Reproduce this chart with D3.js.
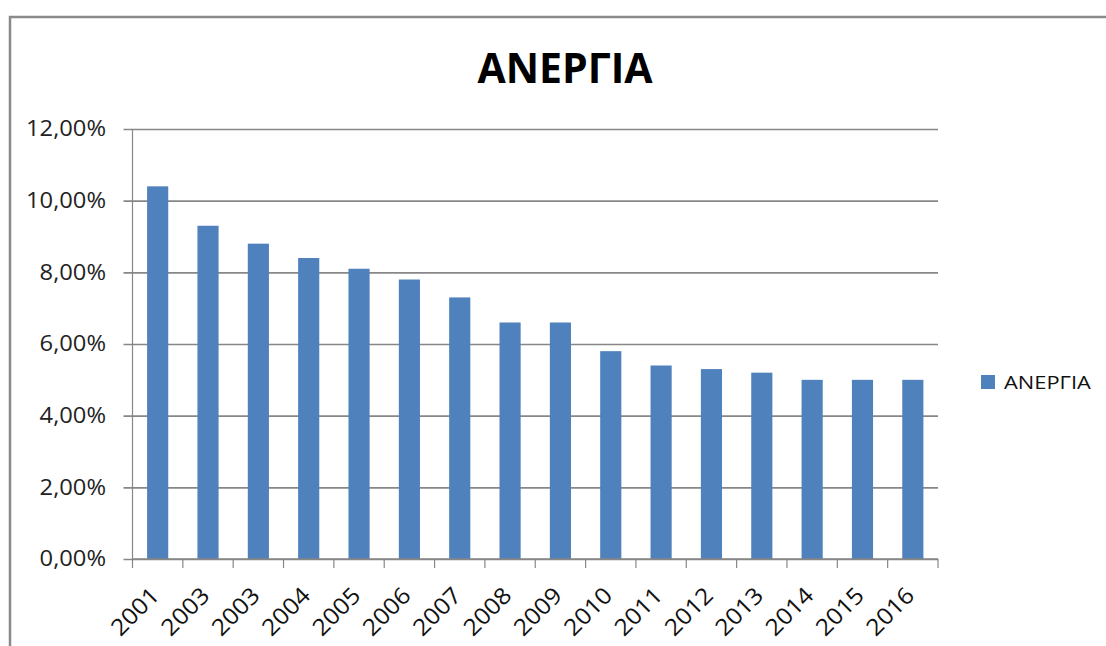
<!DOCTYPE html>
<html>
<head>
<meta charset="utf-8">
<script src="https://cdn.jsdelivr.net/npm/d3@7"></script>
<style>
  body { margin: 0; background: #fff; }
  svg { display: block; }
</style>
</head>
<body>
<div id="chart"></div>
<script>
// data (labels kept as shown, incl. the repeated 2003)
const years = ['2001', '2003', '2003', '2004', '2005', '2006', '2007', '2008',
  '2009', '2010', '2011', '2012', '2013', '2014', '2015', '2016'];
const unemployment = [10.4, 9.3, 8.8, 8.4, 8.1, 7.8, 7.3, 6.6, 6.6, 5.8, 5.4, 5.3, 5.2, 5.0, 5.0, 5.0];
const yTicks = [0, 2, 4, 6, 8, 10, 12];
const title = 'ΑΝΕΡΓΙΑ';
const seriesName = 'ΑΝΕΡΓΙΑ';

const W = 1106;
const H = 646;
const font = 'Open Sans, Noto Sans, sans-serif';
const stretch = 1.13; // source image looks a bit wider than tall

const margin = { top: 129, right: 168, bottom: 87, left: 132.5 };
const width = W - margin.left - margin.right;
const height = H - margin.top - margin.bottom;

const svg = d3.select('#chart')
  .append('svg')
  .attr('width', W)
  .attr('height', H);

// outer chart frame (only left/top edges visible in the shot)
svg.append('rect')
  .attr('x', 10)
  .attr('y', 17)
  .attr('width', W + 20)
  .attr('height', H + 20)
  .attr('fill', 'none')
  .attr('stroke', '#8a8a8a')
  .attr('stroke-width', 2.5);

const g = svg.append('g')
  .attr('transform', `translate(${margin.left},${margin.top})`);

const x = d3.scaleBand()
  .domain(d3.range(years.length))
  .range([0, width])
  .paddingInner(0.58)
  .paddingOuter(0.29);

const y = d3.scaleLinear()
  .domain([0, 12])
  .range([height, 0]);

// gridlines + y axis labels
const yAxis = g.append('g')
  .call(d3.axisLeft(y)
    .tickValues(yTicks)
    .tickSize(-width)
    .tickFormat(d => d3.format('.2f')(d).replace('.', ',') + '%'));
yAxis.select('.domain').remove();
yAxis.selectAll('.tick line')
  .attr('x1', -9)
  .attr('stroke', '#878787')
  .attr('stroke-width', 1.6);
yAxis.selectAll('.tick text')
  .attr('x', 0)
  .attr('transform', `translate(-26.5,0) scale(${stretch},1)`)
  .attr('fill', '#222')
  .style('font-family', font)
  .style('font-size', '21px');

// vertical axis line
g.append('line')
  .attr('x1', 0)
  .attr('x2', 0)
  .attr('y1', 0)
  .attr('y2', height)
  .attr('stroke', '#878787')
  .attr('stroke-width', 1.2);

// bars
g.append('g')
  .selectAll('rect')
  .data(unemployment)
  .join('rect')
  .attr('x', (d, i) => x(i))
  .attr('y', d => y(d))
  .attr('width', x.bandwidth())
  .attr('height', d => height - y(d))
  .attr('fill', '#4f81bd');

// x axis: ticks sit on band boundaries, labels rotated
const boundaries = d3.range(years.length + 1).map(i => i * x.step());
const xAxis = g.append('g')
  .attr('transform', `translate(0,${height})`);
xAxis.append('line')
  .attr('x1', 0)
  .attr('x2', width)
  .attr('stroke', '#878787')
  .attr('stroke-width', 1.6);
xAxis.selectAll('line.tk')
  .data(boundaries)
  .join('line')
  .attr('class', 'tk')
  .attr('x1', d => d)
  .attr('x2', d => d)
  .attr('y1', 0)
  .attr('y2', 9)
  .attr('stroke', '#878787')
  .attr('stroke-width', 1.2);
xAxis.selectAll('text')
  .data(years)
  .join('text')
  .attr('transform', (d, i) =>
    `translate(${x(i) + x.bandwidth() / 2 + 3},${38}) rotate(-45) scale(1.08,1)`)
  .attr('text-anchor', 'end')
  .attr('fill', '#111')
  .style('font-family', font)
  .style('font-size', '23px')
  .text(d => d);

// title
svg.append('text')
  .attr('x', 565)
  .attr('y', 83)
  .attr('text-anchor', 'middle')
  .attr('fill', '#000')
  .style('font-family', font)
  .style('font-weight', 'bold')
  .style('font-size', '41px')
  .text(title);

// legend
const legend = svg.append('g')
  .attr('transform', 'translate(981,375)');
legend.append('rect')
  .attr('width', 14)
  .attr('height', 14)
  .attr('fill', '#4f81bd');
legend.append('text')
  .attr('transform', `translate(23,14) scale(1.15,1)`)
  .attr('fill', '#111')
  .style('font-family', font)
  .style('font-size', '19px')
  .text(seriesName);
</script>
</body>
</html>
